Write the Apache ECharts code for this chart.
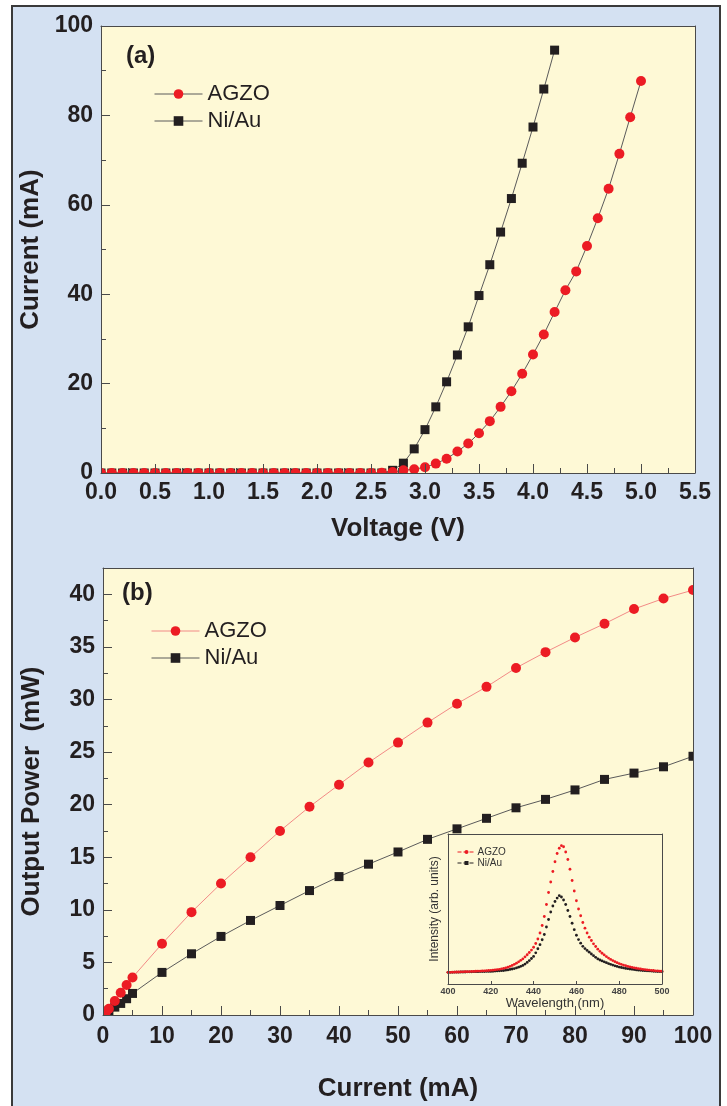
<!DOCTYPE html>
<html>
<head>
<meta charset="utf-8">
<script src="https://cdn.jsdelivr.net/npm/echarts@6/dist/echarts.min.js"></script>
<style>
  html, body { margin: 0; padding: 0; background: #ffffff; }
  #chart { width: 727px; height: 1106px; }
</style>
</head>
<body>
<div id="chart"></div>
<script>
// ---- (a) current-voltage curves ----
const ivVoltageAGZO = [0.0,0.1,0.2,0.3,0.4,0.5,0.6,0.7,0.8,0.9,1.0,1.1,1.2,1.3,1.4,1.5,1.6,1.7,1.8,1.9,2.0,2.1,2.2,2.3,2.4,2.5,2.6,2.7,2.8,2.9,3.0,3.1,3.2,3.3,3.4,3.5,3.6,3.7,3.8,3.9,4.0,4.1,4.2,4.3,4.4,4.5,4.6,4.7,4.8,4.9,5.0];
const ivCurrentAGZO = [0,0,0,0,0,0,0,0,0,0,0,0,0,0,0,0,0,0,0,0,0,0,0,0,0,0,0.05,0.2,0.6,0.85,1.3,2.1,3.2,4.8,6.6,8.9,11.6,14.8,18.3,22.2,26.5,31.0,36.0,40.9,45.1,50.8,57.0,63.6,71.4,79.6,87.7];
const ivVoltageNiAu = [0.0,0.1,0.2,0.3,0.4,0.5,0.6,0.7,0.8,0.9,1.0,1.1,1.2,1.3,1.4,1.5,1.6,1.7,1.8,1.9,2.0,2.1,2.2,2.3,2.4,2.5,2.6,2.7,2.8,2.9,3.0,3.1,3.2,3.3,3.4,3.5,3.6,3.7,3.8,3.9,4.0,4.1,4.2];
const ivCurrentNiAu = [0,0,0,0,0,0,0,0,0,0,0,0,0,0,0,0,0,0,0,0,0,0,0,0,0,0,0,0.6,2.2,5.4,9.7,14.8,20.4,26.4,32.7,39.7,46.6,53.9,61.4,69.3,77.4,85.9,94.6];

// ---- (b) light output vs. injection current ----
const liCurrent = [0,0.5,1,2,3,4,5,10,15,20,25,30,35,40,45,50,55,60,65,70,75,80,85,90,95,100];
const liPowerAGZO = [0,0.25,0.6,1.33,2.12,2.85,3.57,6.77,9.78,12.5,15.0,17.5,19.8,21.9,24.0,25.9,27.8,29.6,31.2,33.0,34.5,35.9,37.2,38.6,39.6,40.4];
const liPowerNiAu = [0,0.15,0.4,0.75,1.1,1.55,2.05,4.05,5.82,7.47,8.99,10.41,11.83,13.16,14.34,15.5,16.7,17.7,18.7,19.7,20.5,21.4,22.4,23.0,23.6,24.6];

// ---- inset: electroluminescence spectra ----
const elWavelength = [400,401,402,403,404,405,406,407,408,409,410,411,412,413,414,415,416,417,418,419,420,421,422,423,424,425,426,427,428,429,430,431,432,433,434,435,436,437,438,439,440,441,442,443,444,445,446,447,448,449,450,451,452,453,454,455,456,457,458,459,460,461,462,463,464,465,466,467,468,469,470,471,472,473,474,475,476,477,478,479,480,481,482,483,484,485,486,487,488,489,490,491,492,493,494,495,496,497,498,499,500];
const elIntensityAGZO = [.078,.078,.079,.079,.080,.080,.081,.081,.082,.082,.083,.084,.084,.085,.086,.086,.087,.088,.089,.090,.091,.092,.094,.096,.098,.101,.104,.108,.112,.118,.124,.131,.139,.148,.158,.168,.181,.195,.210,.226,.245,.270,.300,.340,.390,.450,.530,.610,.680,.750,.815,.870,.905,.922,.915,.880,.830,.765,.690,.620,.555,.500,.455,.410,.372,.340,.312,.290,.268,.250,.232,.218,.205,.194,.183,.173,.164,.156,.149,.142,.136,.131,.126,.122,.118,.114,.111,.108,.105,.103,.100,.098,.096,.094,.093,.091,.090,.088,.087,.086,.085];
const elIntensityNiAu = [.078,.078,.078,.079,.079,.079,.080,.080,.080,.081,.081,.081,.082,.082,.082,.083,.083,.083,.084,.084,.084,.085,.086,.087,.088,.089,.090,.092,.094,.097,.100,.103,.107,.112,.118,.124,.133,.144,.156,.170,.184,.208,.235,.262,.295,.330,.380,.430,.480,.520,.550,.573,.589,.580,.560,.530,.490,.450,.405,.362,.325,.296,.272,.251,.236,.224,.212,.200,.189,.178,.167,.160,.154,.148,.142,.136,.131,.126,.121,.117,.113,.110,.107,.104,.102,.100,.098,.096,.094,.092,.091,.090,.089,.088,.087,.086,.085,.084,.083,.083,.082];

const voltageTicks = ['0.0','0.5','1.0','1.5','2.0','2.5','3.0','3.5','4.0','4.5','5.0','5.5'];

// ---- styling ----
const FONT = '"Liberation Sans", Arial, Helvetica, sans-serif';
const INK = '#231f20';
const FRAME = '#4a4a4a';
const PANEL_BG = '#d4e1f2';
const PLOT_BG = '#fef9d6';
const RED = '#ec1c24';
const BLACK = '#231f20';
const LINE_GREY = '#5a5a5a';
const LINE_PINK = '#f28a86';

// plot rectangles
const G0 = { left: 101, top: 26, width: 594, height: 447 };
const G1 = { left: 103, top: 568, width: 590, height: 447 };
const G2 = { left: 448, top: 834, width: 214, height: 150 };

const pairs = (xs, ys) => xs.map((x, i) => [x, ys[i]]);

// plain edge of the plot box (no ticks, no labels)
function frameAxis(gridIndex, position, min, max) {
  return {
    type: 'value', gridIndex, position, min, max, z: 10,
    axisLine: { show: true, onZero: false, lineStyle: { color: FRAME, width: 1 } },
    axisTick: { show: false }, axisLabel: { show: false }, splitLine: { show: false }
  };
}

const tickLabel = (size, margin) => ({
  fontFamily: FONT, fontWeight: 'bold', fontSize: size, color: INK, margin
});
const titleText = { fontFamily: FONT, fontWeight: 'bold', fontSize: 26, color: INK };

// strips of panel colour just outside each plot so edge markers appear cut by the frame
function edgeStrips(g, w) {
  const r = g.left + g.width, b = g.top + g.height;
  const mk = (x, y, width, height) => ({
    type: 'rect', z: 5, silent: true,
    shape: { x, y, width, height }, style: { fill: PANEL_BG }
  });
  return [
    mk(g.left - w, g.top - w, w, g.height + 2 * w),
    mk(r, g.top - w, w, g.height + 2 * w),
    mk(g.left - w, g.top - w, g.width + 2 * w, w),
    mk(g.left - w, b, g.width + 2 * w, w)
  ];
}

const chart = echarts.init(document.getElementById('chart'), null, { renderer: 'canvas' });

const option = {
  animation: false,
  backgroundColor: '#ffffff',
  textStyle: { fontFamily: FONT },
  graphic: [
    { type: 'rect', z: -10, silent: true,
      shape: { x: 12, y: 6, width: 708, height: 1120 },
      style: { fill: PANEL_BG, stroke: '#3a3a3a', lineWidth: 2 } },
    ...edgeStrips(G0, 7),
    ...edgeStrips(G1, 7),
    { type: 'text', z: 10, left: 126, top: 44,
      style: { text: '(a)', fontFamily: FONT, fontWeight: 'bold', fontSize: 24, fill: INK } },
    { type: 'text', z: 10, left: 122, top: 581,
      style: { text: '(b)', fontFamily: FONT, fontWeight: 'bold', fontSize: 24, fill: INK } }
  ],
  grid: [
    Object.assign({ show: true, backgroundColor: PLOT_BG, borderWidth: 0 }, G0),
    Object.assign({ show: true, backgroundColor: PLOT_BG, borderWidth: 0 }, G1),
    Object.assign({ show: true, backgroundColor: PLOT_BG, borderWidth: 0 }, G2)
  ],
  legend: [
    {
      orient: 'vertical', left: 154, top: 83, padding: 0, itemGap: 5,
      itemWidth: 48, itemHeight: 12, selectedMode: false,
      textStyle: { fontFamily: FONT, fontSize: 22, color: INK },
      data: [
        { name: 'AGZO', itemStyle: { color: RED }, lineStyle: { color: LINE_GREY, width: 1 } },
        { name: 'Ni/Au', itemStyle: { color: BLACK }, lineStyle: { color: LINE_GREY, width: 1 } }
      ]
    },
    {
      orient: 'vertical', left: 151, top: 620, padding: 0, itemGap: 5,
      itemWidth: 48, itemHeight: 12, selectedMode: false,
      textStyle: { fontFamily: FONT, fontSize: 22, color: INK },
      data: [
        { name: 'AGZO', itemStyle: { color: RED }, lineStyle: { color: LINE_PINK, width: 1 } },
        { name: 'Ni/Au', itemStyle: { color: BLACK }, lineStyle: { color: LINE_GREY, width: 1 } }
      ]
    },
    {
      orient: 'vertical', left: 457, top: 847, padding: 0, itemGap: 1,
      itemWidth: 18, itemHeight: 5, selectedMode: false,
      textStyle: { fontFamily: FONT, fontSize: 10, color: '#333333', padding: [0, 0, 0, -3] },
      data: [
        { name: 'AGZO', itemStyle: { color: RED }, lineStyle: { color: RED, width: 1, type: 'dashed' } },
        { name: 'Ni/Au', itemStyle: { color: BLACK }, lineStyle: { color: BLACK, width: 1, type: 'dashed' } }
      ]
    }
  ],
  xAxis: [
    {
      type: 'value', gridIndex: 0, position: 'bottom', min: 0, max: 5.5, interval: 0.5, z: 10,
      name: 'Voltage (V)', nameLocation: 'middle', nameGap: 43, nameTextStyle: titleText,
      axisLine: { show: true, onZero: false, lineStyle: { color: FRAME, width: 1 } },
      axisTick: { show: true, inside: true, length: 9, lineStyle: { color: FRAME } },
      minorTick: { show: true, splitNumber: 2, length: 5, lineStyle: { color: FRAME } },
      axisLabel: Object.assign(tickLabel(23, 8), { formatter: v => voltageTicks[Math.round(v / 0.5)] }),
      splitLine: { show: false }
    },
    frameAxis(0, 'top', 0, 5.5),
    {
      type: 'value', gridIndex: 1, position: 'bottom', min: 0, max: 100, interval: 10, z: 10,
      name: 'Current (mA)', nameLocation: 'middle', nameGap: 61, nameTextStyle: titleText,
      axisLine: { show: true, onZero: false, lineStyle: { color: FRAME, width: 1 } },
      axisTick: { show: true, inside: true, length: 9, lineStyle: { color: FRAME } },
      minorTick: { show: true, splitNumber: 2, length: 5, lineStyle: { color: FRAME } },
      axisLabel: tickLabel(23, 10),
      splitLine: { show: false }
    },
    frameAxis(1, 'top', 0, 100),
    {
      type: 'value', gridIndex: 2, position: 'bottom', min: 400, max: 500, interval: 20, z: 10,
      name: 'Wavelength (nm)', nameLocation: 'middle', nameGap: 13,
      nameTextStyle: { fontFamily: FONT, fontSize: 13, color: '#333333' },
      axisLine: { show: true, onZero: false, lineStyle: { color: FRAME, width: 1 } },
      axisTick: { show: true, inside: true, length: 3, lineStyle: { color: FRAME } },
      axisLabel: { fontFamily: FONT, fontWeight: 'bold', fontSize: 9, color: '#444444', margin: 3 },
      splitLine: { show: false }
    },
    frameAxis(2, 'top', 400, 500)
  ],
  yAxis: [
    {
      type: 'value', gridIndex: 0, position: 'left', min: 0, max: 100, interval: 20, z: 10,
      name: 'Current (mA)', nameLocation: 'middle', nameGap: 56, nameTextStyle: titleText,
      axisLine: { show: true, onZero: false, lineStyle: { color: FRAME, width: 1 } },
      axisTick: { show: true, inside: true, length: 9, lineStyle: { color: FRAME } },
      minorTick: { show: true, splitNumber: 2, length: 5, lineStyle: { color: FRAME } },
      axisLabel: tickLabel(23, 8),
      splitLine: { show: false }
    },
    frameAxis(0, 'right', 0, 100),
    {
      type: 'value', gridIndex: 1, position: 'left', min: 0, max: 42.5, interval: 5, z: 10,
      name: 'Output Power  (mW)', nameLocation: 'middle', nameGap: 58, nameTextStyle: titleText,
      axisLine: { show: true, onZero: false, lineStyle: { color: FRAME, width: 1 } },
      axisTick: { show: true, inside: true, length: 9, lineStyle: { color: FRAME } },
      axisLabel: Object.assign(tickLabel(23, 8), { formatter: v => (v % 5 === 0 ? String(v) : '') }),
      splitLine: { show: false }
    },
    {
      // half-step minor ticks of the power axis
      type: 'value', gridIndex: 1, position: 'left', min: 0, max: 42.5, interval: 2.5, z: 10,
      axisLine: { show: false, onZero: false },
      axisTick: { show: true, inside: true, length: 5, lineStyle: { color: FRAME } },
      axisLabel: { show: false }, splitLine: { show: false }
    },
    frameAxis(1, 'right', 0, 42.5),
    {
      type: 'value', gridIndex: 2, position: 'left', min: 0, max: 1, z: 10,
      name: 'Intensity (arb. units)', nameLocation: 'middle', nameGap: 7,
      nameTextStyle: { fontFamily: FONT, fontSize: 12, color: '#333333' },
      axisLine: { show: true, onZero: false, lineStyle: { color: FRAME, width: 1 } },
      axisTick: { show: false }, axisLabel: { show: false }, splitLine: { show: false }
    },
    frameAxis(2, 'right', 0, 1)
  ],
  series: [
    {
      name: 'Ni/Au', type: 'line', xAxisIndex: 0, yAxisIndex: 0,
      data: pairs(ivVoltageNiAu, ivCurrentNiAu),
      symbol: 'rect', symbolSize: 9,
      itemStyle: { color: BLACK },
      lineStyle: { color: LINE_GREY, width: 1 }
    },
    {
      name: 'AGZO', type: 'line', xAxisIndex: 0, yAxisIndex: 0,
      data: pairs(ivVoltageAGZO, ivCurrentAGZO),
      symbol: 'circle', symbolSize: 10,
      itemStyle: { color: RED },
      lineStyle: { color: LINE_GREY, width: 1 }
    },
    {
      name: 'Ni/Au', type: 'line', xAxisIndex: 2, yAxisIndex: 2,
      data: pairs(liCurrent, liPowerNiAu),
      symbol: 'rect', symbolSize: 9,
      itemStyle: { color: BLACK },
      lineStyle: { color: LINE_GREY, width: 1 }
    },
    {
      name: 'AGZO', type: 'line', xAxisIndex: 2, yAxisIndex: 2,
      data: pairs(liCurrent, liPowerAGZO),
      symbol: 'circle', symbolSize: 10,
      itemStyle: { color: RED },
      lineStyle: { color: LINE_PINK, width: 1 }
    },
    {
      name: 'Ni/Au', type: 'line', xAxisIndex: 4, yAxisIndex: 5,
      data: pairs(elWavelength, elIntensityNiAu),
      symbol: 'circle', symbolSize: 2.8, showAllSymbol: true,
      itemStyle: { color: BLACK },
      lineStyle: { width: 0, opacity: 0 }
    },
    {
      name: 'AGZO', type: 'line', xAxisIndex: 4, yAxisIndex: 5,
      data: pairs(elWavelength, elIntensityAGZO),
      symbol: 'circle', symbolSize: 2.8, showAllSymbol: true,
      itemStyle: { color: RED },
      lineStyle: { width: 0, opacity: 0 }
    }
  ]
};

chart.setOption(option);
</script>
</body>
</html>
